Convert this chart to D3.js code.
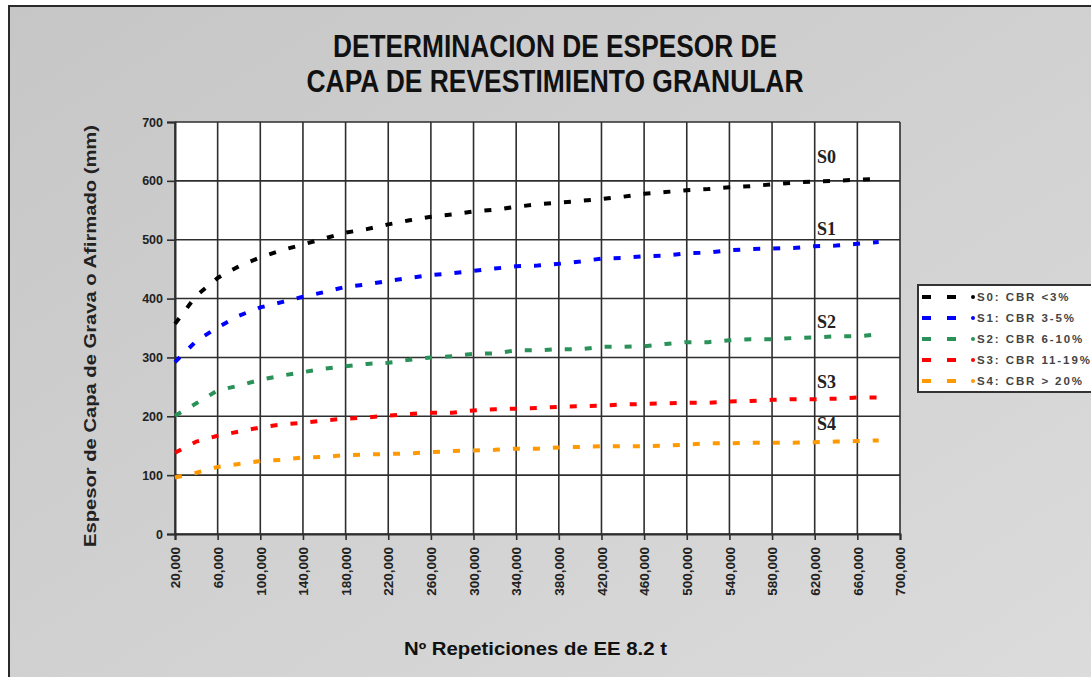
<!DOCTYPE html>
<html>
<head>
<meta charset="utf-8">
<script src="https://cdn.jsdelivr.net/npm/d3@7"></script>
<style>
  body { margin: 0; background: #fff; }
  text { font-family: Arial, "Liberation Sans", sans-serif; }
</style>
</head>
<body>
<div id="chart1"></div>
<script>
// repeticiones (EE 8.2 t)
var reps = [20000, 40000, 60000, 80000, 100000, 120000, 140000, 160000, 180000, 200000,
  220000, 240000, 260000, 280000, 300000, 320000, 340000, 360000, 380000, 400000,
  420000, 440000, 460000, 480000, 500000, 520000, 540000, 560000, 580000, 600000,
  620000, 640000, 660000, 680000];

var s0 = [357, 405, 435, 455, 470, 482, 492, 502, 512, 518, 526, 533, 539, 543, 548, 551, 556,
  560, 563, 566, 569, 573, 578, 581, 584, 586, 589, 591, 594, 597, 599, 600, 602, 603];
var s1 = [292, 328, 351, 371, 385, 394, 403, 411, 420, 424, 430, 435, 440, 443, 447, 451, 455,
  456, 459, 463, 468, 469, 472, 473, 477, 478, 482, 484, 485, 486, 489, 490, 493, 496];
var s2 = [201, 222, 244, 252, 262, 269, 275, 281, 285, 289, 291, 296, 300, 302, 306, 307, 312,
  312, 314, 314, 318, 318, 319, 323, 326, 326, 329, 331, 331, 333, 334, 336, 336, 339];
var s3 = [138, 157, 167, 174, 181, 186, 189, 193, 196, 198, 201, 204, 206, 206, 210, 212, 213,
  214, 216, 217, 218, 220, 221, 222, 223, 223, 225, 226, 228, 229, 229, 230, 232, 232];
var s4 = [96, 104, 114, 119, 124, 126, 130, 131, 134, 135, 136, 137, 139, 141, 142, 143, 145,
  145, 147, 148, 149, 149, 149, 150, 152, 154, 154, 155, 155, 155, 156, 157, 158, 159];

var seriesNames = ["S0", "S1", "S2", "S3", "S4"];
var legendLabels = ["S0: CBR <3%", "S1: CBR 3-5%", "S2: CBR 6-10%", "S3: CBR 11-19%", "S4: CBR > 20%"];
var colors = ["#000000", "#0000ff", "#2a9158", "#ff0000", "#ff9900"];

var xTicks = [20000, 60000, 100000, 140000, 180000, 220000, 260000, 300000, 340000, 380000,
  420000, 460000, 500000, 540000, 580000, 620000, 660000, 700000];
var yTicks = [0, 100, 200, 300, 400, 500, 600, 700];

var W = 1091, H = 677;
var margin = {top: 122, right: 191, bottom: 143, left: 175},
    width = W - margin.left - margin.right,
    height = H - margin.top - margin.bottom;

var x = d3.scaleLinear().domain([20000, 700000]).range([0, width]);
var y = d3.scaleLinear().domain([0, 700]).range([height, 0]);

var svg0 = d3.select("#chart1").append("svg")
    .attr("width", W)
    .attr("height", H);

var grad = svg0.append("defs").append("linearGradient")
    .attr("id", "bg")
    .attr("x1", "0%").attr("y1", "0%")
    .attr("x2", "100%").attr("y2", "100%");
grad.append("stop").attr("offset", "0%").attr("stop-color", "#c6c6c6");
grad.append("stop").attr("offset", "100%").attr("stop-color", "#dcdcdc");

// chart area frame
svg0.append("rect")
    .attr("x", 9).attr("y", 6)
    .attr("width", W + 10).attr("height", H + 10)
    .attr("fill", "url(#bg)")
    .attr("stroke", "#2a2a2a")
    .attr("stroke-width", 2);

// title
var title = ["DETERMINACION DE ESPESOR DE", "CAPA DE REVESTIMIENTO GRANULAR"];
var titleLen = [444, 497];
svg0.selectAll(".title")
    .data(title)
  .enter().append("text")
    .attr("class", "title")
    .attr("x", 555)
    .attr("y", function(d, i) { return 57 + i * 35; })
    .attr("text-anchor", "middle")
    .attr("textLength", function(d, i) { return titleLen[i]; })
    .attr("lengthAdjust", "spacingAndGlyphs")
    .style("font-size", "31px")
    .style("font-weight", "bold")
    .attr("fill", "#111")
    .text(function(d) { return d; });

var svg = svg0.append("g")
    .attr("transform", "translate(" + margin.left + "," + margin.top + ")");

svg.append("rect")
    .attr("width", width)
    .attr("height", height)
    .attr("fill", "#ffffff");

// grid
svg.selectAll(".hgrid")
    .data(yTicks)
  .enter().append("line")
    .attr("class", "hgrid")
    .attr("x1", 0).attr("x2", width)
    .attr("y1", function(d) { return y(d); })
    .attr("y2", function(d) { return y(d); })
    .attr("stroke", "#2e2e2e")
    .attr("stroke-width", 1.6);

svg.selectAll(".vgrid")
    .data(xTicks)
  .enter().append("line")
    .attr("class", "vgrid")
    .attr("x1", function(d) { return x(d); })
    .attr("x2", function(d) { return x(d); })
    .attr("y1", 0).attr("y2", height)
    .attr("stroke", "#2e2e2e")
    .attr("stroke-width", 1.6);

// axes
var xAxis = svg.append("g")
    .attr("transform", "translate(0," + height + ")")
    .call(d3.axisBottom(x).tickValues(xTicks).tickSize(6).tickFormat(d3.format(",")));

xAxis.selectAll("text")
    .attr("transform", "rotate(-90)")
    .attr("x", -13)
    .attr("y", 0)
    .attr("dy", "0.35em")
    .attr("text-anchor", "end")
    .style("font-size", "13.5px")
    .style("font-weight", "bold")
    .attr("fill", "#222");

var yAxis = svg.append("g")
    .call(d3.axisLeft(y).tickValues(yTicks).tickSize(8).tickFormat(d3.format("d")));

yAxis.selectAll("text")
    .attr("x", -12)
    .style("font-size", "12.5px")
    .style("font-weight", "bold")
    .attr("fill", "#222");

svg.selectAll(".domain").attr("stroke", "#2e2e2e").attr("stroke-width", 2);
svg.selectAll(".tick line").attr("stroke", "#2e2e2e").attr("stroke-width", 1.6);

svg.append("text")
    .attr("transform", "rotate(-90)")
    .attr("x", -(336 - margin.top))
    .attr("y", 90 - margin.left)
    .attr("dy", "0.35em")
    .attr("text-anchor", "middle")
    .attr("textLength", 422)
    .attr("lengthAdjust", "spacingAndGlyphs")
    .style("font-size", "16px")
    .style("font-weight", "bold")
    .attr("fill", "#222")
    .text("Espesor de Capa de Grava o Afirmado (mm)");

svg.append("text")
    .attr("x", 404 - margin.left)
    .attr("y", 655 - margin.top)
    .attr("textLength", 263)
    .attr("lengthAdjust", "spacingAndGlyphs")
    .style("font-size", "18px")
    .style("font-weight", "bold")
    .attr("fill", "#111")
    .text("Nº Repeticiones de EE 8.2 t");

// curves
var allSeries = [s0, s1, s2, s3, s4];

var line = d3.line()
    .x(function(d, i) { return x(reps[i]); })
    .y(function(d) { return y(d); });

svg.selectAll(".curve")
    .data(allSeries)
  .enter().append("path")
    .attr("class", "curve")
    .attr("d", line)
    .attr("fill", "none")
    .attr("stroke", function(d, i) { return colors[i]; })
    .attr("stroke-width", 4)
    .attr("stroke-dasharray", "7,13");

// S labels
var labelY = [163, 235, 328, 388, 430];
svg0.selectAll(".slabel")
    .data(seriesNames)
  .enter().append("text")
    .attr("class", "slabel")
    .attr("x", 817)
    .attr("y", function(d, i) { return labelY[i]; })
    .style("font-family", "'Liberation Serif', 'Times New Roman', serif")
    .style("font-size", "18px")
    .style("font-weight", "bold")
    .attr("fill", "#222")
    .text(function(d) { return d; });

// legend
var legend = svg0.append("g");
legend.append("rect")
    .attr("x", 918).attr("y", 285)
    .attr("width", 200).attr("height", 107)
    .attr("fill", "#ffffff")
    .attr("stroke", "#333")
    .attr("stroke-width", 2);

var item = legend.selectAll(".item")
    .data(legendLabels)
  .enter().append("g")
    .attr("class", "item")
    .attr("transform", function(d, i) { return "translate(0," + (297 + i * 21) + ")"; });

item.append("line")
    .attr("x1", 922).attr("x2", 958)
    .attr("y1", 0).attr("y2", 0)
    .attr("stroke", function(d, i) { return colors[i]; })
    .attr("stroke-width", 4)
    .attr("stroke-dasharray", "9,16");

item.append("circle")
    .attr("cx", 973).attr("cy", 0).attr("r", 2)
    .attr("fill", function(d, i) { return colors[i]; });

item.append("text")
    .attr("x", 977)
    .attr("y", 0)
    .attr("dy", "0.35em")
    .style("font-size", "11.5px")
    .style("font-weight", "bold")
    .style("letter-spacing", "1.9px")
    .attr("fill", "#444")
    .text(function(d) { return d; });
</script>
</body>
</html>
